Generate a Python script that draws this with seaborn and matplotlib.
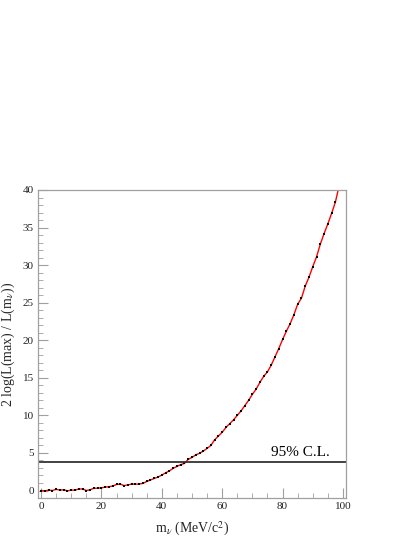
import numpy as np
import pandas as pd
import matplotlib
matplotlib.use("Agg")
import matplotlib.pyplot as plt
import seaborn as sns
from matplotlib.ticker import MultipleLocator

# ---- data ----
mass = [0.0, 1.25, 2.5, 3.75, 5.0, 6.25, 7.5, 8.75, 10.0, 11.25,
        12.5, 13.75, 15.0, 16.25, 17.5, 18.75, 20.0, 21.25, 22.5, 23.75,
        25.0, 26.25, 27.5, 28.75, 30.0, 31.25, 32.5, 33.75, 35.0, 36.25,
        37.5, 38.75, 40.0, 41.25, 42.5, 43.75, 45.0, 46.25, 47.5, 48.75,
        50.0, 51.25, 52.5, 53.75, 55.0, 56.25, 57.5, 58.75, 60.0, 61.25,
        62.5, 63.75, 65.0, 66.25, 67.5, 68.75, 70.0, 71.25, 72.5, 73.75,
        75.0, 76.25, 77.5, 78.75, 80.0, 81.25, 82.5, 83.75, 85.0, 86.25,
        87.5, 88.75, 90.0, 91.25, 92.5, 93.75, 95.0, 96.25, 97.5, 98.75]
loglik = [0.0, -0.05, 0.05, 0.0, 0.15, 0.05, 0.1, -0.05, 0.05, 0.05,
          0.2, 0.2, 0.0, 0.1, 0.3, 0.3, 0.35, 0.45, 0.5, 0.6,
          0.8, 0.85, 0.65, 0.75, 0.85, 0.85, 0.85, 0.95, 1.2, 1.4,
          1.6, 1.8, 2.05, 2.35, 2.6, 2.95, 3.2, 3.45, 3.6, 4.15,
          4.4, 4.75, 4.95, 5.25, 5.6, 6.0, 6.75, 7.25, 7.75, 8.4,
          8.9, 9.4, 10.0, 10.6, 11.3, 12.0, 12.8, 13.5, 14.4, 15.2,
          15.8, 16.7, 17.8, 18.9, 20.1, 21.2, 22.2, 23.4, 24.8, 25.6,
          27.2, 28.4, 29.8, 31.1, 32.8, 34.2, 35.5, 36.9, 38.4, 40.6]
cl95_value = 3.84
cl95_label = "95% C.L."
x_ticks = [0, 20, 40, 60, 80, 100]
y_ticks = [0, 5, 10, 15, 20, 25, 30, 35, 40]

df = pd.DataFrame({"m": mass, "L": loglik})

sns.set_theme(style="white")
plt.rcParams["font.family"] = ["Liberation Serif", "DejaVu Serif"]
plt.rcParams["mathtext.fontset"] = "stix"

fig = plt.figure(figsize=(4.15, 5.37), dpi=100)
ax = fig.add_axes([0.0916, 0.0726, 0.7421, 0.5736])

sns.lineplot(data=df, x="m", y="L", ax=ax, color="red", lw=1.0,
             marker="s", markersize=1.5, markerfacecolor="black",
             markeredgecolor="black", markeredgewidth=0, clip_on=True)

ax.axhline(cl95_value, color="#333333", lw=1.3)
ax.text(86, cl95_value + 0.35, cl95_label, ha="center", va="bottom",
        fontsize=11, color="black")

ax.set_xlim(-1, 101)
ax.set_ylim(-1, 40)
ax.set_xticks(x_ticks)
ax.set_yticks(y_ticks)
ax.xaxis.set_minor_locator(MultipleLocator(5))
ax.yaxis.set_minor_locator(MultipleLocator(1))

for s in ax.spines.values():
    s.set_color("#a0a0a0")
    s.set_linewidth(0.9)
ax.tick_params(which="both", direction="in", color="#a0a0a0",
               labelsize=8, labelcolor="#222222", top=False, right=False,
               bottom=True, left=True)
ax.tick_params(which="major", length=7, width=0.8, pad=3)
ax.tick_params(which="minor", length=3.5, width=0.6)

ax.set_xlabel(r"m$_{\nu}$ (MeV/c$^{2}$)", fontsize=10, labelpad=6)
ax.set_ylabel(r"2 log(L(max) / L(m$_{\nu}$))", fontsize=10, labelpad=4)

fig.savefig("out.png", dpi=100)
